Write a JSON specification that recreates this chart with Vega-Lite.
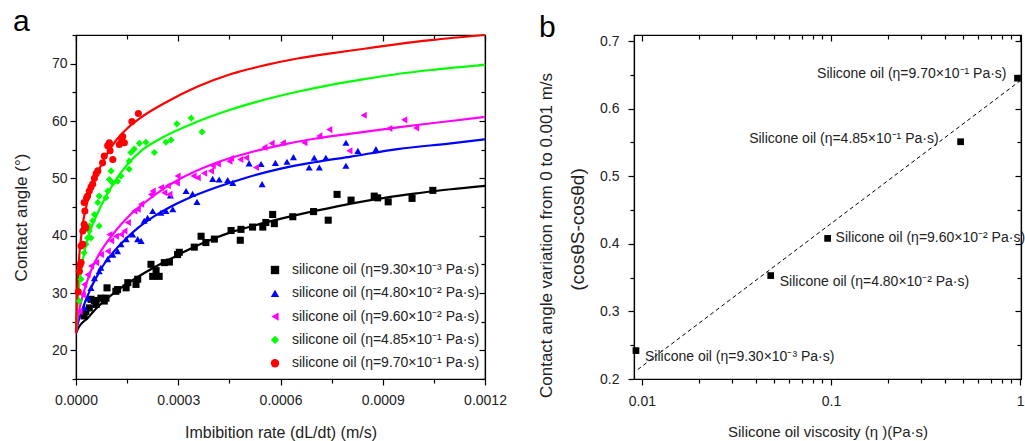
{
"$schema": "https://vega.github.io/schema/vega-lite/v6.json",
"background": "white",
"padding": {"left": 11, "top": 6, "right": 0, "bottom": 0},
"spacing": 149,
"bounds": "flush",
"config": {
  "font": "Liberation Sans",
  "view": {"stroke": "black", "strokeWidth": 1.2},
  "axis": {"grid": false, "domainColor": "black", "domainWidth": 1.2, "tickColor": "black", "tickWidth": 1.2, "labelColor": "#222", "titleColor": "#222", "titleFontWeight": "normal", "labelFont": "Liberation Sans", "titleFont": "Liberation Sans", "labelOverlap": false, "labelFlush": false},
  "legend": {"labelFont": "Liberation Sans"},
  "title": {"font": "Liberation Sans"}
},
"datasets": {
  "aFit": [
    {"oil":"9.30×10⁻³","rate":0,"angle":23.0},{"oil":"9.30×10⁻³","rate":0.00001,"angle":24.2},{"oil":"9.30×10⁻³","rate":0.00002,"angle":24.9},{"oil":"9.30×10⁻³","rate":0.000034,"angle":25.6},{"oil":"9.30×10⁻³","rate":0.00005,"angle":26.7},{"oil":"9.30×10⁻³","rate":0.000083,"angle":28.6},{"oil":"9.30×10⁻³","rate":0.000132,"angle":30.9},{"oil":"9.30×10⁻³","rate":0.000181,"angle":32.8},{"oil":"9.30×10⁻³","rate":0.00023,"angle":34.5},{"oil":"9.30×10⁻³","rate":0.000279,"angle":36.0},{"oil":"9.30×10⁻³","rate":0.000328,"angle":37.5},{"oil":"9.30×10⁻³","rate":0.000376,"angle":38.8},{"oil":"9.30×10⁻³","rate":0.000445,"angle":40.4},{"oil":"9.30×10⁻³","rate":0.000513,"angle":41.6},{"oil":"9.30×10⁻³","rate":0.000611,"angle":43.1},{"oil":"9.30×10⁻³","rate":0.000709,"angle":44.4},{"oil":"9.30×10⁻³","rate":0.000807,"angle":45.6},{"oil":"9.30×10⁻³","rate":0.000905,"angle":46.6},{"oil":"9.30×10⁻³","rate":0.001003,"angle":47.4},{"oil":"9.30×10⁻³","rate":0.0011,"angle":48.1},{"oil":"9.30×10⁻³","rate":0.0012,"angle":48.7},
    {"oil":"4.80×10⁻²","rate":0,"angle":23.0},{"oil":"4.80×10⁻²","rate":0.000005,"angle":24.6},{"oil":"4.80×10⁻²","rate":0.00001,"angle":25.6},{"oil":"4.80×10⁻²","rate":0.000024,"angle":28.0},{"oil":"4.80×10⁻²","rate":0.000044,"angle":30.9},{"oil":"4.80×10⁻²","rate":0.000064,"angle":33.2},{"oil":"4.80×10⁻²","rate":0.000083,"angle":35.1},{"oil":"4.80×10⁻²","rate":0.000112,"angle":37.3},{"oil":"4.80×10⁻²","rate":0.000142,"angle":39.2},{"oil":"4.80×10⁻²","rate":0.000181,"angle":41.3},{"oil":"4.80×10⁻²","rate":0.00023,"angle":43.4},{"oil":"4.80×10⁻²","rate":0.000279,"angle":45.1},{"oil":"4.80×10⁻²","rate":0.000328,"angle":46.5},{"oil":"4.80×10⁻²","rate":0.000406,"angle":48.3},{"oil":"4.80×10⁻²","rate":0.000504,"angle":50.2},{"oil":"4.80×10⁻²","rate":0.000601,"angle":51.7},{"oil":"4.80×10⁻²","rate":0.000699,"angle":52.8},{"oil":"4.80×10⁻²","rate":0.000807,"angle":53.8},{"oil":"4.80×10⁻²","rate":0.000944,"angle":55.1},{"oil":"4.80×10⁻²","rate":0.0011,"angle":56.1},{"oil":"4.80×10⁻²","rate":0.0012,"angle":56.8},
    {"oil":"9.60×10⁻²","rate":0,"angle":23.0},{"oil":"9.60×10⁻²","rate":0.000005,"angle":25.5},{"oil":"9.60×10⁻²","rate":0.00001,"angle":27.2},{"oil":"9.60×10⁻²","rate":0.00002,"angle":29.6},{"oil":"9.60×10⁻²","rate":0.000034,"angle":32.3},{"oil":"9.60×10⁻²","rate":0.00005,"angle":34.7},{"oil":"9.60×10⁻²","rate":0.00007,"angle":37.0},{"oil":"9.60×10⁻²","rate":0.0001,"angle":39.6},{"oil":"9.60×10⁻²","rate":0.00013,"angle":41.8},{"oil":"9.60×10⁻²","rate":0.00016,"angle":43.7},{"oil":"9.60×10⁻²","rate":0.0002,"angle":45.7},{"oil":"9.60×10⁻²","rate":0.00025,"angle":47.9},{"oil":"9.60×10⁻²","rate":0.000308,"angle":50.0},{"oil":"9.60×10⁻²","rate":0.000406,"angle":52.6},{"oil":"9.60×10⁻²","rate":0.000504,"angle":54.4},{"oil":"9.60×10⁻²","rate":0.000601,"angle":55.8},{"oil":"9.60×10⁻²","rate":0.000699,"angle":56.9},{"oil":"9.60×10⁻²","rate":0.000807,"angle":57.8},{"oil":"9.60×10⁻²","rate":0.000944,"angle":58.9},{"oil":"9.60×10⁻²","rate":0.0011,"angle":60.0},{"oil":"9.60×10⁻²","rate":0.0012,"angle":60.7},
    {"oil":"4.85×10⁻¹","rate":0,"angle":23.0},{"oil":"4.85×10⁻¹","rate":0.000003,"angle":26.5},{"oil":"4.85×10⁻¹","rate":0.000007,"angle":29.8},{"oil":"4.85×10⁻¹","rate":0.000012,"angle":32.8},{"oil":"4.85×10⁻¹","rate":0.00002,"angle":35.8},{"oil":"4.85×10⁻¹","rate":0.00003,"angle":38.6},{"oil":"4.85×10⁻¹","rate":0.000044,"angle":41.2},{"oil":"4.85×10⁻¹","rate":0.000064,"angle":44.0},{"oil":"4.85×10⁻¹","rate":0.000083,"angle":46.3},{"oil":"4.85×10⁻¹","rate":0.000112,"angle":49.3},{"oil":"4.85×10⁻¹","rate":0.000152,"angle":52.5},{"oil":"4.85×10⁻¹","rate":0.000191,"angle":54.8},{"oil":"4.85×10⁻¹","rate":0.00025,"angle":57.0},{"oil":"4.85×10⁻¹","rate":0.000357,"angle":59.9},{"oil":"4.85×10⁻¹","rate":0.000455,"angle":62.0},{"oil":"4.85×10⁻¹","rate":0.000552,"angle":63.7},{"oil":"4.85×10⁻¹","rate":0.00065,"angle":65.1},{"oil":"4.85×10⁻¹","rate":0.000748,"angle":66.3},{"oil":"4.85×10⁻¹","rate":0.000846,"angle":67.3},{"oil":"4.85×10⁻¹","rate":0.000944,"angle":68.2},{"oil":"4.85×10⁻¹","rate":0.001041,"angle":68.9},{"oil":"4.85×10⁻¹","rate":0.0012,"angle":69.8},
    {"oil":"9.70×10⁻¹","rate":0,"angle":23.0},{"oil":"9.70×10⁻¹","rate":0.000002,"angle":27.5},{"oil":"9.70×10⁻¹","rate":0.000005,"angle":32.0},{"oil":"9.70×10⁻¹","rate":0.00001,"angle":36.8},{"oil":"9.70×10⁻¹","rate":0.0000147,"angle":39.6},{"oil":"9.70×10⁻¹","rate":0.000022,"angle":42.8},{"oil":"9.70×10⁻¹","rate":0.000034,"angle":46.0},{"oil":"9.70×10⁻¹","rate":0.000054,"angle":49.6},{"oil":"9.70×10⁻¹","rate":0.000083,"angle":53.4},{"oil":"9.70×10⁻¹","rate":0.000112,"angle":56.2},{"oil":"9.70×10⁻¹","rate":0.000152,"angle":58.8},{"oil":"9.70×10⁻¹","rate":0.0002,"angle":61.0},{"oil":"9.70×10⁻¹","rate":0.000259,"angle":63.1},{"oil":"9.70×10⁻¹","rate":0.000357,"angle":66.0},{"oil":"9.70×10⁻¹","rate":0.000455,"angle":68.2},{"oil":"9.70×10⁻¹","rate":0.000552,"angle":69.7},{"oil":"9.70×10⁻¹","rate":0.00065,"angle":70.9},{"oil":"9.70×10⁻¹","rate":0.000748,"angle":71.8},{"oil":"9.70×10⁻¹","rate":0.000846,"angle":72.6},{"oil":"9.70×10⁻¹","rate":0.000944,"angle":73.4},{"oil":"9.70×10⁻¹","rate":0.001041,"angle":74.1},{"oil":"9.70×10⁻¹","rate":0.0012,"angle":75.0}
  ],
  "aPts": [
    {"oil":"9.30×10⁻³","rate":0.000024,"angle":26.0},{"oil":"9.30×10⁻³","rate":0.000029,"angle":26.8},{"oil":"9.30×10⁻³","rate":0.000039,"angle":27.4},{"oil":"9.30×10⁻³","rate":0.000059,"angle":28.0},{"oil":"9.30×10⁻³","rate":0.000044,"angle":28.9},{"oil":"9.30×10⁻³","rate":0.000054,"angle":28.7},{"oil":"9.30×10⁻³","rate":0.000073,"angle":29.1},{"oil":"9.30×10⁻³","rate":0.000083,"angle":28.6},{"oil":"9.30×10⁻³","rate":0.000088,"angle":29.1},{"oil":"9.30×10⁻³","rate":0.000091,"angle":30.9},{"oil":"9.30×10⁻³","rate":0.000117,"angle":30.3},{"oil":"9.30×10⁻³","rate":0.000122,"angle":30.6},{"oil":"9.30×10⁻³","rate":0.000147,"angle":30.9},{"oil":"9.30×10⁻³","rate":0.000152,"angle":31.8},{"oil":"9.30×10⁻³","rate":0.000176,"angle":31.5},{"oil":"9.30×10⁻³","rate":0.000181,"angle":32.4},{"oil":"9.30×10⁻³","rate":0.00022,"angle":35.0},{"oil":"9.30×10⁻³","rate":0.000225,"angle":32.9},{"oil":"9.30×10⁻³","rate":0.000244,"angle":32.9},{"oil":"9.30×10⁻³","rate":0.000235,"angle":33.9},{"oil":"9.30×10⁻³","rate":0.000259,"angle":35.3},{"oil":"9.30×10⁻³","rate":0.000274,"angle":35.4},{"oil":"9.30×10⁻³","rate":0.000298,"angle":36.7},{"oil":"9.30×10⁻³","rate":0.000303,"angle":37.1},{"oil":"9.30×10⁻³","rate":0.000347,"angle":38.0},{"oil":"9.30×10⁻³","rate":0.000367,"angle":39.9},{"oil":"9.30×10⁻³","rate":0.000381,"angle":38.8},{"oil":"9.30×10⁻³","rate":0.000406,"angle":39.4},{"oil":"9.30×10⁻³","rate":0.000455,"angle":40.9},{"oil":"9.30×10⁻³","rate":0.000484,"angle":41.1},{"oil":"9.30×10⁻³","rate":0.000482,"angle":39.2},{"oil":"9.30×10⁻³","rate":0.000518,"angle":41.5},{"oil":"9.30×10⁻³","rate":0.000548,"angle":41.5},{"oil":"9.30×10⁻³","rate":0.000557,"angle":42.3},{"oil":"9.30×10⁻³","rate":0.000577,"angle":43.7},{"oil":"9.30×10⁻³","rate":0.000582,"angle":42.1},{"oil":"9.30×10⁻³","rate":0.000636,"angle":43.3},{"oil":"9.30×10⁻³","rate":0.000697,"angle":44.2},{"oil":"9.30×10⁻³","rate":0.00074,"angle":42.7},{"oil":"9.30×10⁻³","rate":0.000766,"angle":47.2},{"oil":"9.30×10⁻³","rate":0.000807,"angle":46.2},{"oil":"9.30×10⁻³","rate":0.000875,"angle":46.9},{"oil":"9.30×10⁻³","rate":0.000885,"angle":46.6},{"oil":"9.30×10⁻³","rate":0.000916,"angle":45.9},{"oil":"9.30×10⁻³","rate":0.000986,"angle":46.5},{"oil":"9.30×10⁻³","rate":0.001047,"angle":47.9},
    {"oil":"4.80×10⁻²","rate":0.000024,"angle":27.4},{"oil":"4.80×10⁻²","rate":0.000034,"angle":29.1},{"oil":"4.80×10⁻²","rate":0.000044,"angle":30.9},{"oil":"4.80×10⁻²","rate":0.000054,"angle":32.6},{"oil":"4.80×10⁻²","rate":0.000068,"angle":33.8},{"oil":"4.80×10⁻²","rate":0.000073,"angle":34.4},{"oil":"4.80×10⁻²","rate":0.000093,"angle":35.9},{"oil":"4.80×10⁻²","rate":0.000108,"angle":36.7},{"oil":"4.80×10⁻²","rate":0.000122,"angle":37.3},{"oil":"4.80×10⁻²","rate":0.000132,"angle":38.5},{"oil":"4.80×10⁻²","rate":0.000147,"angle":39.4},{"oil":"4.80×10⁻²","rate":0.000166,"angle":40.2},{"oil":"4.80×10⁻²","rate":0.000181,"angle":39.4},{"oil":"4.80×10⁻²","rate":0.000191,"angle":39.1},{"oil":"4.80×10⁻²","rate":0.0002,"angle":42.6},{"oil":"4.80×10⁻²","rate":0.00021,"angle":43.1},{"oil":"4.80×10⁻²","rate":0.000225,"angle":44.3},{"oil":"4.80×10⁻²","rate":0.000249,"angle":44.0},{"oil":"4.80×10⁻²","rate":0.000264,"angle":44.3},{"oil":"4.80×10⁻²","rate":0.000284,"angle":44.6},{"oil":"4.80×10⁻²","rate":0.000277,"angle":47.0},{"oil":"4.80×10⁻²","rate":0.000323,"angle":47.8},{"oil":"4.80×10⁻²","rate":0.000342,"angle":47.3},{"oil":"4.80×10⁻²","rate":0.000355,"angle":45.9},{"oil":"4.80×10⁻²","rate":0.000401,"angle":49.9},{"oil":"4.80×10⁻²","rate":0.00042,"angle":49.8},{"oil":"4.80×10⁻²","rate":0.000445,"angle":49.7},{"oil":"4.80×10⁻²","rate":0.00046,"angle":49.2},{"oil":"4.80×10⁻²","rate":0.000508,"angle":52.6},{"oil":"4.80×10⁻²","rate":0.000543,"angle":52.5},{"oil":"4.80×10⁻²","rate":0.000546,"angle":49.0},{"oil":"4.80×10⁻²","rate":0.000585,"angle":52.7},{"oil":"4.80×10⁻²","rate":0.000619,"angle":52.9},{"oil":"4.80×10⁻²","rate":0.000638,"angle":53.7},{"oil":"4.80×10⁻²","rate":0.000684,"angle":51.9},{"oil":"4.80×10⁻²","rate":0.000699,"angle":53.6},{"oil":"4.80×10⁻²","rate":0.000714,"angle":51.9},{"oil":"4.80×10⁻²","rate":0.000733,"angle":53.6},{"oil":"4.80×10⁻²","rate":0.000792,"angle":52.2},{"oil":"4.80×10⁻²","rate":0.000792,"angle":56.2},{"oil":"4.80×10⁻²","rate":0.000827,"angle":54.8},{"oil":"4.80×10⁻²","rate":0.00088,"angle":55.1},
    {"oil":"9.60×10⁻²","rate":0.00001,"angle":26.8},{"oil":"9.60×10⁻²","rate":0.00002,"angle":29.7},{"oil":"9.60×10⁻²","rate":0.000024,"angle":31.5},{"oil":"9.60×10⁻²","rate":0.000034,"angle":33.2},{"oil":"9.60×10⁻²","rate":0.000044,"angle":34.7},{"oil":"9.60×10⁻²","rate":0.000059,"angle":35.3},{"oil":"9.60×10⁻²","rate":0.000073,"angle":36.7},{"oil":"9.60×10⁻²","rate":0.000093,"angle":37.3},{"oil":"9.60×10⁻²","rate":0.000103,"angle":39.1},{"oil":"9.60×10⁻²","rate":0.000117,"angle":39.9},{"oil":"9.60×10⁻²","rate":0.000132,"angle":40.2},{"oil":"9.60×10⁻²","rate":0.000142,"angle":40.8},{"oil":"9.60×10⁻²","rate":0.000098,"angle":40.2},{"oil":"9.60×10⁻²","rate":0.000152,"angle":42.3},{"oil":"9.60×10⁻²","rate":0.000171,"angle":44.3},{"oil":"9.60×10⁻²","rate":0.000181,"angle":44.6},{"oil":"9.60×10⁻²","rate":0.000191,"angle":45.5},{"oil":"9.60×10⁻²","rate":0.00022,"angle":47.2},{"oil":"9.60×10⁻²","rate":0.000225,"angle":47.8},{"oil":"9.60×10⁻²","rate":0.000249,"angle":48.4},{"oil":"9.60×10⁻²","rate":0.000259,"angle":47.5},{"oil":"9.60×10⁻²","rate":0.000274,"angle":47.2},{"oil":"9.60×10⁻²","rate":0.000269,"angle":48.7},{"oil":"9.60×10⁻²","rate":0.000296,"angle":49.2},{"oil":"9.60×10⁻²","rate":0.000298,"angle":50.4},{"oil":"9.60×10⁻²","rate":0.000345,"angle":50.4},{"oil":"9.60×10⁻²","rate":0.000357,"angle":50.1},{"oil":"9.60×10⁻²","rate":0.000376,"angle":50.9},{"oil":"9.60×10⁻²","rate":0.000396,"angle":51.3},{"oil":"9.60×10⁻²","rate":0.000401,"angle":52.2},{"oil":"9.60×10⁻²","rate":0.000416,"angle":52.5},{"oil":"9.60×10⁻²","rate":0.00045,"angle":53.0},{"oil":"9.60×10⁻²","rate":0.000455,"angle":53.5},{"oil":"9.60×10⁻²","rate":0.000482,"angle":53.3},{"oil":"9.60×10⁻²","rate":0.000499,"angle":53.6},{"oil":"9.60×10⁻²","rate":0.000528,"angle":51.9},{"oil":"9.60×10⁻²","rate":0.000553,"angle":55.4},{"oil":"9.60×10⁻²","rate":0.000574,"angle":56.1},{"oil":"9.60×10⁻²","rate":0.000607,"angle":56.2},{"oil":"9.60×10⁻²","rate":0.00067,"angle":56.2},{"oil":"9.60×10⁻²","rate":0.000714,"angle":57.4},{"oil":"9.60×10⁻²","rate":0.000743,"angle":58.5},{"oil":"9.60×10⁻²","rate":0.000802,"angle":54.8},{"oil":"9.60×10⁻²","rate":0.000844,"angle":61.0},{"oil":"9.60×10⁻²","rate":0.000919,"angle":58.7},{"oil":"9.60×10⁻²","rate":0.000963,"angle":60.2},{"oil":"9.60×10⁻²","rate":0.000998,"angle":58.8},
    {"oil":"4.85×10⁻¹","rate":0.00001,"angle":28.6},{"oil":"4.85×10⁻¹","rate":0.000015,"angle":32.4},{"oil":"4.85×10⁻¹","rate":0.000024,"angle":37.0},{"oil":"4.85×10⁻¹","rate":0.000029,"angle":38.5},{"oil":"4.85×10⁻¹","rate":0.000034,"angle":39.6},{"oil":"4.85×10⁻¹","rate":0.000039,"angle":41.7},{"oil":"4.85×10⁻¹","rate":0.000039,"angle":40.8},{"oil":"4.85×10⁻¹","rate":0.000044,"angle":39.6},{"oil":"4.85×10⁻¹","rate":0.000049,"angle":42.6},{"oil":"4.85×10⁻¹","rate":0.000068,"angle":41.7},{"oil":"4.85×10⁻¹","rate":0.000054,"angle":43.7},{"oil":"4.85×10⁻¹","rate":0.000064,"angle":45.8},{"oil":"4.85×10⁻¹","rate":0.000068,"angle":46.9},{"oil":"4.85×10⁻¹","rate":0.000088,"angle":46.6},{"oil":"4.85×10⁻¹","rate":0.000093,"angle":47.8},{"oil":"4.85×10⁻¹","rate":0.000098,"angle":49.8},{"oil":"4.85×10⁻¹","rate":0.000108,"angle":49.2},{"oil":"4.85×10⁻¹","rate":0.000103,"angle":51.3},{"oil":"4.85×10⁻¹","rate":0.000122,"angle":49.5},{"oil":"4.85×10⁻¹","rate":0.000132,"angle":50.4},{"oil":"4.85×10⁻¹","rate":0.000156,"angle":51.6},{"oil":"4.85×10⁻¹","rate":0.000156,"angle":53.0},{"oil":"4.85×10⁻¹","rate":0.000161,"angle":54.5},{"oil":"4.85×10⁻¹","rate":0.000171,"angle":55.1},{"oil":"4.85×10⁻¹","rate":0.000186,"angle":56.1},{"oil":"4.85×10⁻¹","rate":0.000205,"angle":56.3},{"oil":"4.85×10⁻¹","rate":0.00023,"angle":54.5},{"oil":"4.85×10⁻¹","rate":0.000264,"angle":56.3},{"oil":"4.85×10⁻¹","rate":0.000279,"angle":56.7},{"oil":"4.85×10⁻¹","rate":0.000296,"angle":59.5},{"oil":"4.85×10⁻¹","rate":0.000338,"angle":60.5},{"oil":"4.85×10⁻¹","rate":0.00037,"angle":58.1},
    {"oil":"9.70×10⁻¹","rate":0.0000068,"angle":30.2},{"oil":"9.70×10⁻¹","rate":0.00001,"angle":33.8},{"oil":"9.70×10⁻¹","rate":0.000012,"angle":34.9},{"oil":"9.70×10⁻¹","rate":0.000015,"angle":35.3},{"oil":"9.70×10⁻¹","rate":0.0000147,"angle":38.2},{"oil":"9.70×10⁻¹","rate":0.00002,"angle":38.5},{"oil":"9.70×10⁻¹","rate":0.00002,"angle":40.8},{"oil":"9.70×10⁻¹","rate":0.000024,"angle":42.0},{"oil":"9.70×10⁻¹","rate":0.000029,"angle":41.4},{"oil":"9.70×10⁻¹","rate":0.000026,"angle":44.3},{"oil":"9.70×10⁻¹","rate":0.000024,"angle":45.8},{"oil":"9.70×10⁻¹","rate":0.000031,"angle":46.6},{"oil":"9.70×10⁻¹","rate":0.000034,"angle":46.9},{"oil":"9.70×10⁻¹","rate":0.000039,"angle":47.8},{"oil":"9.70×10⁻¹","rate":0.000044,"angle":48.5},{"oil":"9.70×10⁻¹","rate":0.000049,"angle":49.0},{"oil":"9.70×10⁻¹","rate":0.000054,"angle":50.0},{"oil":"9.70×10⁻¹","rate":0.000059,"angle":50.8},{"oil":"9.70×10⁻¹","rate":0.000064,"angle":51.3},{"oil":"9.70×10⁻¹","rate":0.000078,"angle":52.7},{"oil":"9.70×10⁻¹","rate":0.000083,"angle":53.9},{"oil":"9.70×10⁻¹","rate":0.000108,"angle":53.3},{"oil":"9.70×10⁻¹","rate":0.0001,"angle":54.8},{"oil":"9.70×10⁻¹","rate":0.000093,"angle":55.7},{"oil":"9.70×10⁻¹","rate":0.000098,"angle":56.2},{"oil":"9.70×10⁻¹","rate":0.000127,"angle":55.9},{"oil":"9.70×10⁻¹","rate":0.000134,"angle":56.7},{"oil":"9.70×10⁻¹","rate":0.000137,"angle":57.3},{"oil":"9.70×10⁻¹","rate":0.000142,"angle":56.2},{"oil":"9.70×10⁻¹","rate":0.000164,"angle":59.9},{"oil":"9.70×10⁻¹","rate":0.000183,"angle":61.3}
  ],
  "bFit": [{"eta":0.0095,"dcos":0.214},{"eta":1.0,"dcos":0.641}],
  "bPts": [
    {"eta":0.0093,"dcos":0.242,"label":"Silicone oil (η=9.30×10⁻³ Pa·s)"},
    {"eta":0.048,"dcos":0.353,"label":"Silicone oil (η=4.80×10⁻² Pa·s)"},
    {"eta":0.096,"dcos":0.408,"label":"Silicone oil (η=9.60×10⁻² Pa·s)"},
    {"eta":0.485,"dcos":0.551,"label":"Silicone oil (η=4.85×10⁻¹ Pa·s)"},
    {"eta":0.97,"dcos":0.645,"label":"Silicone oil (η=9.70×10⁻¹ Pa·s)"}
  ]
},
"hconcat": [
  {
    "width": 409, "height": 344,
    "title": {"text": "a", "anchor": "start", "frame": "group", "fontSize": 30, "fontWeight": "normal", "dx": -63, "offset": -9, "color": "black"},
    "layer": [
      {
        "data": {"name": "aFit"},
        "mark": {"type": "line", "strokeWidth": 2.2, "interpolate": "monotone"},
        "encoding": {
          "x": {"field": "rate", "type": "quantitative", "scale": {"domain": [0, 0.0012], "nice": false, "zero": false},
            "axis": {"orient": "bottom", "values": [0, 0.00015, 0.0003, 0.00045, 0.0006, 0.00075, 0.0009, 0.00105, 0.0012],
              "labelExpr": "abs(datum.value*10000/3 - round(datum.value*10000/3)) < 0.01 ? format(datum.value, '.4f') : ''",
              "tickSize": {"condition": {"test": "abs(datum.value*10000/3 - round(datum.value*10000/3)) < 0.01", "value": 6}, "value": 4},
              "title": "Imbibition rate (dL/dt) (m/s)", "titleFontSize": 16, "labelFontSize": 14, "labelPadding": 8, "minExtent": 28, "maxExtent": 28, "titlePadding": 17}},
          "y": {"field": "angle", "type": "quantitative", "scale": {"domain": [15, 75], "nice": false, "zero": false},
            "axis": {"orient": "left", "values": [15, 20, 25, 30, 35, 40, 45, 50, 55, 60, 65, 70, 75],
              "labelExpr": "datum.value % 10 == 0 ? datum.value : ''",
              "tickSize": {"condition": {"test": "datum.value % 10 == 0", "value": 6}, "value": 4},
              "title": "Contact angle (°)", "titleFontSize": 17, "titleY": 182, "labelFontSize": 14, "labelPadding": 3, "minExtent": 30, "maxExtent": 30, "titlePadding": 16}},
          "stroke": {"field": "oil", "type": "nominal", "scale": {"domain": ["9.70×10⁻¹", "4.85×10⁻¹", "9.60×10⁻²", "4.80×10⁻²", "9.30×10⁻³"], "range": ["#ff0000", "#00ff00", "#ff00ff", "#0000ff", "#000000"]}, "legend": null}
        }
      },
      {
        "data": {"name": "aPts"},
        "mark": {"type": "point", "filled": true, "size": 50, "opacity": 1},
        "encoding": {
          "x": {"field": "rate", "type": "quantitative", "scale": {"domain": [0, 0.0012], "nice": false, "zero": false},
            "axis": {"orient": "top", "values": [0, 0.00015, 0.0003, 0.00045, 0.0006, 0.00075, 0.0009, 0.00105, 0.0012], "labels": false, "title": null,
              "tickSize": {"condition": {"test": "abs(datum.value*10000/3 - round(datum.value*10000/3)) < 0.01", "value": -6}, "value": -4}}},
          "y": {"field": "angle", "type": "quantitative", "scale": {"domain": [15, 75], "nice": false, "zero": false},
            "axis": {"orient": "right", "values": [15, 20, 25, 30, 35, 40, 45, 50, 55, 60, 65, 70, 75], "labels": false, "title": null,
              "tickSize": {"condition": {"test": "datum.value % 10 == 0", "value": -6}, "value": -4}}},
          "color": {"field": "oil", "type": "nominal", "scale": {"domain": ["9.30×10⁻³", "4.80×10⁻²", "9.60×10⁻²", "4.85×10⁻¹", "9.70×10⁻¹"], "range": ["#000000", "#0000ff", "#ff00ff", "#00ff00", "#ff0000"]},
            "legend": {"orient": "none", "legendX": 192, "legendY": 228, "title": null, "padding": 0, "labelExpr": "'silicone oil (η=' + datum.label + ' Pa·s)'", "labelFontSize": 14, "labelLimit": 0, "labelColor": "#222", "symbolSize": 70, "rowPadding": 9.3, "labelOffset": 10}},
          "shape": {"field": "oil", "type": "nominal", "scale": {"domain": ["9.30×10⁻³", "4.80×10⁻²", "9.60×10⁻²", "4.85×10⁻¹", "9.70×10⁻¹"], "range": ["square", "triangle-up", "triangle-left", "diamond", "circle"]},
            "legend": {"orient": "none", "legendX": 192, "legendY": 228, "title": null, "padding": 0, "labelExpr": "'silicone oil (η=' + datum.label + ' Pa·s)'", "labelFontSize": 14, "labelLimit": 0, "labelColor": "#222", "symbolSize": 70, "rowPadding": 9.3, "labelOffset": 10}}
        }
      }
    ],
    "resolve": {"axis": {"x": "independent", "y": "independent"}}
  },
  {
    "width": 387, "height": 344,
    "title": {"text": "b", "anchor": "start", "frame": "group", "fontSize": 30, "fontWeight": "normal", "dx": -95, "offset": -9, "color": "black"},
    "layer": [
      {
        "data": {"name": "bFit"},
        "mark": {"type": "line", "strokeDash": [4, 3], "strokeWidth": 1, "color": "black"},
        "encoding": {
          "x": {"field": "eta", "type": "quantitative", "scale": {"type": "log", "domain": [0.00908, 1.012], "nice": false},
            "axis": {"orient": "bottom", "values": [0.01, 0.02, 0.03, 0.04, 0.05, 0.06, 0.07, 0.08, 0.09, 0.1, 0.2, 0.3, 0.4, 0.5, 0.6, 0.7, 0.8, 0.9, 1],
              "labelExpr": "datum.value == 0.01 ? '0.01' : datum.value == 0.1 ? '0.1' : datum.value == 1 ? '1' : ''",
              "tickSize": {"condition": {"test": "datum.value == 0.01 || datum.value == 0.1 || datum.value == 1", "value": 6}, "value": 4},
              "title": "Silicone oil viscosity (η )(Pa·s)", "titleFontSize": 15, "labelFontSize": 14, "labelPadding": 9, "minExtent": 29, "maxExtent": 29, "titlePadding": 16}},
          "y": {"field": "dcos", "type": "quantitative", "scale": {"domain": [0.2, 0.70888], "nice": false, "zero": false},
            "axis": {"orient": "left", "values": [0.2, 0.25, 0.3, 0.35, 0.4, 0.45, 0.5, 0.55, 0.6, 0.65, 0.7],
              "labelExpr": "round(datum.value*100) % 10 == 0 ? format(datum.value, '.1f') : ''",
              "tickSize": {"condition": {"test": "round(datum.value*100) % 10 == 0", "value": 6}, "value": 4},
              "title": "(cosθS-cosθd)", "titleFontSize": 19, "titleY": 194, "labelFontSize": 14, "labelPadding": 9, "minExtent": 35, "maxExtent": 35, "titlePadding": 12}}
        }
      },
      {
        "data": {"name": "bPts"},
        "mark": {"type": "point", "shape": "square", "filled": true, "size": 45, "color": "black", "opacity": 1},
        "encoding": {
          "x": {"field": "eta", "type": "quantitative", "scale": {"type": "log", "domain": [0.00908, 1.012], "nice": false},
            "axis": {"orient": "top", "values": [0.01, 0.02, 0.03, 0.04, 0.05, 0.06, 0.07, 0.08, 0.09, 0.1, 0.2, 0.3, 0.4, 0.5, 0.6, 0.7, 0.8, 0.9, 1], "labels": false, "title": null,
              "tickSize": {"condition": {"test": "datum.value == 0.01 || datum.value == 0.1 || datum.value == 1", "value": -6}, "value": -4}}},
          "y": {"field": "dcos", "type": "quantitative", "scale": {"domain": [0.2, 0.70888], "nice": false, "zero": false},
            "axis": {"orient": "right", "values": [0.2, 0.25, 0.3, 0.35, 0.4, 0.45, 0.5, 0.55, 0.6, 0.65, 0.7], "labels": false, "title": null,
              "tickSize": {"condition": {"test": "round(datum.value*100) % 10 == 0", "value": -6}, "value": -4}}}
        }
      },
      {
        "data": {"name": "bPts"},
        "transform": [{"filter": "datum.eta < 0.05"}],
        "mark": {"type": "text", "align": "left", "baseline": "middle", "dx": 9, "dy": 6, "fontSize": 14, "color": "#222"},
        "encoding": {
          "x": {"field": "eta", "type": "quantitative", "scale": {"type": "log", "domain": [0.00908, 1.012], "nice": false}, "axis": null},
          "y": {"field": "dcos", "type": "quantitative", "scale": {"domain": [0.2, 0.70888], "nice": false, "zero": false},
            "axis": {"orient": "left", "title": "Contact angle variation from 0 to 0.001 m/s", "titleFontSize": 17, "titleY": 200, "labels": false, "ticks": false, "domain": false, "minExtent": 0, "maxExtent": 0, "titlePadding": 79}},
          "text": {"field": "label"}
        }
      },
      {
        "data": {"name": "bPts"},
        "transform": [{"filter": "datum.eta > 0.09 && datum.eta < 0.1"}],
        "mark": {"type": "text", "align": "left", "baseline": "middle", "dx": 8, "dy": 0, "fontSize": 14, "color": "#222"},
        "encoding": {
          "x": {"field": "eta", "type": "quantitative", "scale": {"type": "log", "domain": [0.00908, 1.012], "nice": false}, "axis": null},
          "y": {"field": "dcos", "type": "quantitative", "scale": {"domain": [0.2, 0.70888], "nice": false, "zero": false}, "axis": null},
          "text": {"field": "label"}
        }
      },
      {
        "data": {"name": "bPts"},
        "transform": [{"filter": "datum.eta > 0.4 && datum.eta < 0.5"}],
        "mark": {"type": "text", "align": "right", "baseline": "middle", "dx": -22, "dy": -3, "fontSize": 14, "color": "#222"},
        "encoding": {
          "x": {"field": "eta", "type": "quantitative", "scale": {"type": "log", "domain": [0.00908, 1.012], "nice": false}, "axis": null},
          "y": {"field": "dcos", "type": "quantitative", "scale": {"domain": [0.2, 0.70888], "nice": false, "zero": false}, "axis": null},
          "text": {"field": "label"}
        }
      },
      {
        "data": {"name": "bPts"},
        "transform": [{"filter": "datum.eta > 0.9"}],
        "mark": {"type": "text", "align": "right", "baseline": "middle", "dx": -11, "dy": -4, "fontSize": 14, "color": "#222"},
        "encoding": {
          "x": {"field": "eta", "type": "quantitative", "scale": {"type": "log", "domain": [0.00908, 1.012], "nice": false}, "axis": null},
          "y": {"field": "dcos", "type": "quantitative", "scale": {"domain": [0.2, 0.70888], "nice": false, "zero": false}, "axis": null},
          "text": {"field": "label"}
        }
      }
    ],
    "resolve": {"axis": {"x": "independent", "y": "independent"}}
  }
]
}
